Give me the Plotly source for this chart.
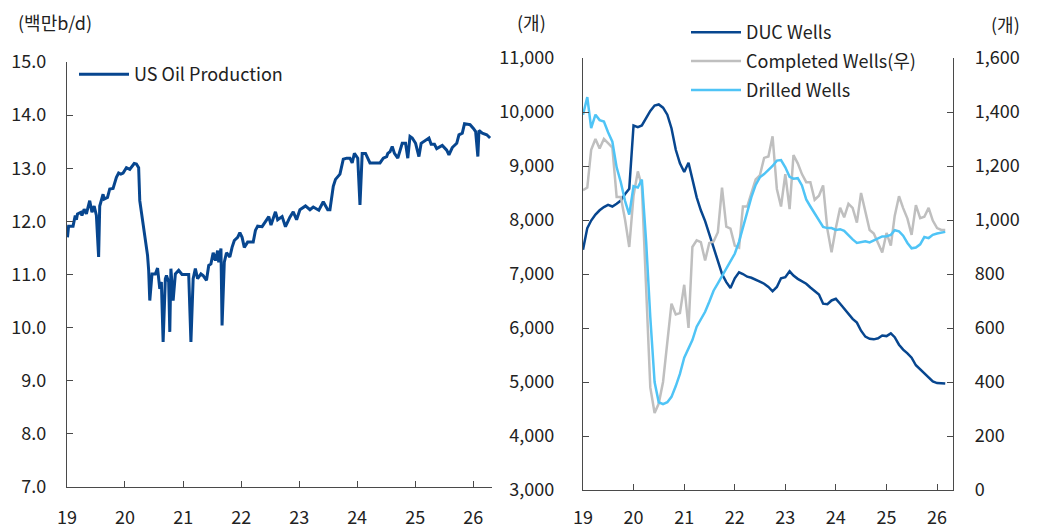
import plotly.graph_objects as go
import pandas as pd

# ---------------- Left chart: US oil production (weekly, 백만b/d) ----------------
prod_dates = [
    "2019-01-04", "2019-01-11", "2019-02-08", "2019-02-22", "2019-03-01", "2019-03-08", "2019-03-29",
    "2019-04-05", "2019-04-19", "2019-05-03", "2019-05-24", "2019-06-07", "2019-06-21", "2019-07-05",
    "2019-07-19", "2019-07-26", "2019-08-16", "2019-08-23", "2019-09-13", "2019-09-27", "2019-10-18",
    "2019-11-08", "2019-11-22", "2019-12-06", "2019-12-20", "2020-01-10", "2020-01-31", "2020-02-28",
    "2020-03-13", "2020-03-27", "2020-04-03", "2020-04-17", "2020-05-08", "2020-05-22", "2020-05-29",
    "2020-06-05", "2020-06-19", "2020-07-10", "2020-07-24", "2020-08-07", "2020-08-17", "2020-08-28",
    "2020-09-11", "2020-09-18", "2020-10-02", "2020-10-09", "2020-10-16", "2020-10-30", "2020-11-13",
    "2020-12-04", "2020-12-25", "2021-02-05", "2021-02-19", "2021-03-05", "2021-03-19", "2021-04-02",
    "2021-04-23", "2021-05-07", "2021-05-28", "2021-06-11", "2021-06-25", "2021-07-09", "2021-07-23",
    "2021-08-06", "2021-08-13", "2021-08-27", "2021-09-03", "2021-09-17", "2021-10-01", "2021-10-22",
    "2021-11-05", "2021-11-19", "2021-12-10", "2021-12-24", "2022-01-07", "2022-01-21", "2022-02-11",
    "2022-03-18", "2022-04-01", "2022-04-15", "2022-05-13", "2022-06-10", "2022-06-24", "2022-07-08",
    "2022-08-05", "2022-08-19", "2022-09-16", "2022-10-07", "2022-11-04", "2022-11-25", "2022-12-16",
    "2023-01-06", "2023-02-10", "2023-03-10", "2023-03-31", "2023-05-05", "2023-06-02", "2023-06-30",
    "2023-07-14", "2023-08-04", "2023-08-18", "2023-09-15", "2023-10-06", "2023-10-27", "2023-11-17",
    "2023-12-01", "2023-12-15", "2024-01-05", "2024-01-19", "2024-02-02", "2024-02-23", "2024-03-22",
    "2024-05-24", "2024-06-14", "2024-07-05", "2024-07-12", "2024-07-26", "2024-08-09", "2024-08-23",
    "2024-09-13", "2024-10-11", "2024-11-01", "2024-11-15", "2024-11-29", "2024-12-13", "2025-01-03",
    "2025-01-24", "2025-02-07", "2025-02-28", "2025-03-28", "2025-04-11", "2025-05-02", "2025-05-16",
    "2025-06-20", "2025-07-18", "2025-08-01", "2025-08-22", "2025-09-19", "2025-10-03", "2025-10-24",
    "2025-11-07", "2025-12-12", "2026-01-02", "2026-01-16", "2026-01-30", "2026-02-06", "2026-02-27",
    "2026-03-27", "2026-04-17",
]
prod_values = [
    11.70, 11.91, 11.91, 12.11, 12.03, 12.14, 12.17,
    12.11, 12.23, 12.14, 12.39, 12.17, 12.29, 12.11,
    11.33, 12.29, 12.51, 12.42, 12.45, 12.61, 12.62,
    12.83, 12.91, 12.89, 12.91, 13.01, 12.98, 13.09,
    13.08, 13.01, 12.39, 12.11, 11.61, 11.36, 11.08,
    10.51, 11.01, 11.01, 11.12, 10.73, 10.86, 9.73,
    10.92, 10.98, 10.86, 9.92, 11.11, 10.51, 11.01,
    11.08, 11.00, 11.00, 9.73, 10.92, 11.11, 10.92,
    11.01, 10.98, 10.89, 11.17, 11.20, 11.41, 11.26,
    11.45, 11.23, 11.49, 10.04, 11.23, 11.41, 11.33,
    11.51, 11.64, 11.70, 11.79, 11.70, 11.51, 11.61,
    11.61, 11.83, 11.91, 11.90, 12.03, 12.09, 11.93,
    12.18, 12.03, 12.09, 11.90, 12.08, 12.18, 12.03,
    12.22, 12.29, 12.22, 12.27, 12.21, 12.37, 12.22,
    12.22, 12.66, 12.79, 12.89, 13.17, 13.19, 13.19,
    13.10, 13.28, 13.19, 12.31, 13.28, 13.28, 13.10,
    13.10, 13.19, 13.22, 13.28, 13.31, 13.41, 13.28,
    13.19, 13.47, 13.47, 13.19, 13.60, 13.57, 13.47,
    13.22, 13.47, 13.52, 13.57, 13.45, 13.45, 13.37,
    13.43, 13.34, 13.25, 13.39, 13.47, 13.63, 13.66,
    13.84, 13.82, 13.75, 13.69, 13.22, 13.71, 13.66,
    13.63, 13.57,
]

# ---------------- Right chart: wells (monthly) ----------------
well_start = "2019-01-01"
duc_wells = [
    7450, 7850, 7990, 8100, 8180, 8240, 8280, 8250, 8300, 8360, 8480, 8580,
    9750, 9720, 9750, 9880, 10020, 10120, 10140, 10080, 9950, 9700, 9300, 9050,
    8890, 9060, 8750, 8420, 8180, 7980, 7740, 7500, 7260, 7000, 6850, 6740,
    6920, 7030, 7000, 6950, 6930, 6900, 6860, 6820, 6760, 6680, 6760, 6920,
    6940, 7050, 6970, 6910, 6870, 6820, 6750, 6690, 6620, 6450, 6440, 6510,
    6540, 6450, 6360, 6280, 6170, 6100, 5950, 5840, 5800, 5790, 5810, 5860,
    5850, 5900, 5830, 5690, 5600, 5530, 5450, 5310, 5230, 5160, 5080, 5010,
    4980, 4970, 4970,
]
completed_wells = [
    1110, 1120, 1260, 1300, 1265, 1300, 1285, 1268, 1085, 1085, 1000, 900,
    1090, 1180, 1125, 720, 380, 285, 320, 400, 560, 690, 650, 655,
    760, 600, 900, 925, 918, 850, 915, 920, 955, 1120, 975, 968,
    905, 898, 1050, 1050, 1100, 1150, 1165, 1230, 1235, 1310, 1115, 1050,
    1170, 1040, 1240, 1210, 1170, 1140, 1140, 1075, 1090, 1128, 965, 880,
    970, 1045, 1010, 1060, 1045, 990, 1100, 1030, 963, 950, 915, 880,
    952, 905, 1015, 1088, 1044, 1005, 945, 1055, 1007, 1012, 1045, 998,
    970, 963, 963,
]
drilled_wells = [
    1390, 1455, 1340, 1390, 1370, 1365, 1325, 1290, 1195, 1140, 1070, 1020,
    1125, 1120, 1150, 920, 640, 400, 325, 318, 325, 345, 385, 430,
    490, 525, 555, 605, 635, 660, 697, 738, 765, 793, 823, 850,
    875, 920, 970, 1030, 1085, 1130, 1158, 1170, 1185, 1200, 1220, 1222,
    1195, 1160, 1153, 1155, 1128, 1076, 1050, 1025, 1000, 974, 970, 970,
    963, 966, 960, 942, 928, 915, 918, 921, 917, 925, 933, 939,
    940, 945, 962, 958, 942, 915, 895, 898, 910, 937, 933, 945,
    950, 953, 956,
]
well_dates = pd.date_range(well_start, periods=len(duc_wells), freq="MS")

year_ticks = ["2019-01-01", "2020-01-01", "2021-01-01", "2022-01-01",
              "2023-01-01", "2024-01-01", "2025-01-01", "2026-01-01"]
year_labels = ["19", "20", "21", "22", "23", "24", "25", "26"]

NAVY = "#07468f"
GREY = "#bfbfbf"
SKY = "#4fc4f6"
AXIS = "#4a4a4a"
TXT = "#222222"
FONT = "Noto Sans CJK KR"
FS = 18

W, H = 1042, 528
OFF = 8  # page body margin offset of the figure within the window

def fx(p):
    return (p - OFF) / W
def fy(p):
    return 1 - (p - OFF) / H

fig = go.Figure()

fig.add_trace(go.Scatter(x=prod_dates, y=prod_values, mode="lines", name="US Oil Production",
                         line=dict(color=NAVY, width=3), xaxis="x", yaxis="y", legend="legend"))

fig.add_trace(go.Scatter(x=well_dates, y=completed_wells, mode="lines", name="Completed Wells(우)",
                         line=dict(color=GREY, width=2.5), xaxis="x2", yaxis="y3",
                         legend="legend2", legendrank=2, legendgroup="b"))
fig.add_trace(go.Scatter(x=well_dates, y=drilled_wells, mode="lines", name="Drilled Wells",
                         line=dict(color=SKY, width=2.5), xaxis="x2", yaxis="y3",
                         legend="legend2", legendrank=3, legendgroup="c"))
fig.add_trace(go.Scatter(x=well_dates, y=duc_wells, mode="lines", name="DUC Wells",
                         line=dict(color=NAVY, width=2.5), xaxis="x2", yaxis="y2",
                         legend="legend2", legendrank=1, legendgroup="a"))

tickfont = dict(family=FONT, size=FS, color=TXT)
common_x = dict(type="date", tickmode="array", tickvals=year_ticks, ticktext=year_labels,
                ticks="inside", ticklen=6, tickcolor=AXIS, showline=True, linecolor=AXIS,
                linewidth=1.3, showgrid=False, zeroline=False, tickfont=tickfont,
                fixedrange=True)

fig.update_layout(
    width=W, height=H,
    margin=dict(l=0, r=0, t=0, b=0, autoexpand=False),
    paper_bgcolor="white", plot_bgcolor="white",
    font=dict(family=FONT, size=FS, color=TXT),
    showlegend=True,
    xaxis=dict(domain=[fx(67), fx(492)], range=["2019-01-01", "2026-04-29"], anchor="y",
               ticklabelstandoff=14, **common_x),
    yaxis=dict(domain=[fy(487), fy(62)], range=[7, 15], dtick=1, tickformat=".1f",
               ticks="inside", ticklen=6, tickcolor=AXIS, showline=True, linecolor=AXIS,
               linewidth=1.3, showgrid=False, zeroline=False, tickfont=tickfont,
               ticklabelstandoff=16, anchor="x"),
    xaxis2=dict(domain=[fx(583), fx(953)], range=["2019-01-01", "2026-04-26"], anchor="y2",
                ticklabelstandoff=11, **common_x),
    yaxis2=dict(domain=[fy(490), fy(58)], range=[3000, 11000], dtick=1000, tickformat=",",
                ticks="inside", ticklen=6, tickcolor=AXIS, showline=True, linecolor=AXIS,
                linewidth=1.3, showgrid=False, zeroline=False, tickfont=tickfont,
                ticklabelstandoff=24, anchor="x2"),
    yaxis3=dict(range=[0, 1600], dtick=200, tickformat=",", overlaying="y2", side="right",
                ticks="inside", ticklen=6, tickcolor=AXIS, showline=True, linecolor=AXIS,
                linewidth=1.3, showgrid=False, zeroline=False, tickfont=tickfont,
                ticklabelstandoff=17, anchor="x2"),
    legend=dict(x=fx(74), y=fy(56), xanchor="left", yanchor="top", bgcolor="rgba(0,0,0,0)",
                itemwidth=50, font=dict(family=FONT, size=FS, color=TXT)),
    legend2=dict(x=fx(686), y=fy(14), xanchor="left", yanchor="top", bgcolor="rgba(0,0,0,0)",
                 traceorder="grouped", tracegroupgap=2.5, itemwidth=50,
                 font=dict(family=FONT, size=FS, color=TXT)),
    annotations=[
        dict(text="(백만b/d)", x=fx(16), y=fy(22), xref="paper", yref="paper",
             xanchor="left", yanchor="middle", showarrow=False, font=dict(family=FONT, size=FS, color=TXT)),
        dict(text="(개)", x=fx(531), y=fy(22), xref="paper", yref="paper",
             xanchor="center", yanchor="middle", showarrow=False, font=dict(family=FONT, size=FS, color=TXT)),
        dict(text="(개)", x=fx(1005), y=fy(24), xref="paper", yref="paper",
             xanchor="center", yanchor="middle", showarrow=False, font=dict(family=FONT, size=FS, color=TXT)),
    ],
)

fig.write_html("out.html")
